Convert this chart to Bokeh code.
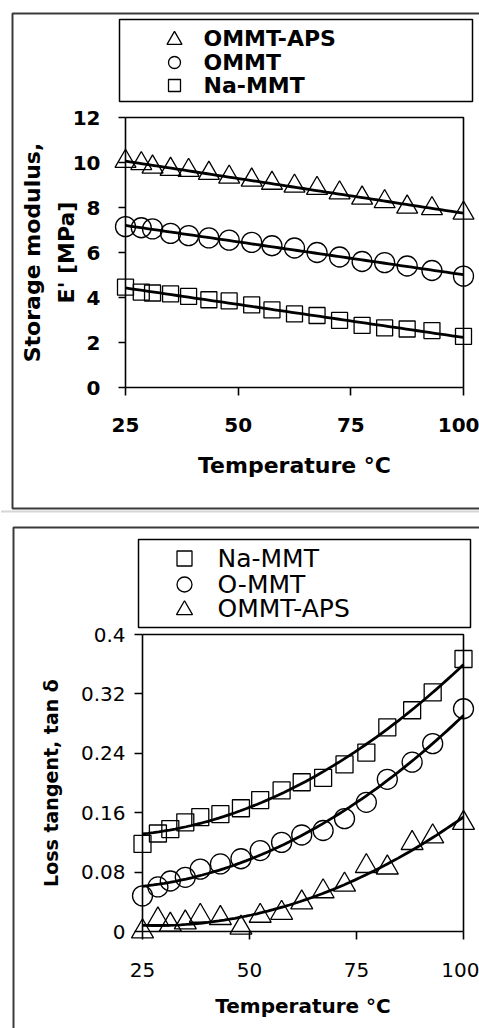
import numpy as np
from bokeh.plotting import figure
from bokeh.layouts import column
from bokeh.models import FixedTicker, Range1d
from bokeh.core.properties import value
from bokeh.embed import file_html
from bokeh.resources import INLINE

# ---------------- data: storage modulus (top panel) ----------------
temp_top = [25, 28.5, 31, 35, 39, 43.5, 48, 53, 57.5, 62.5, 67.5, 72.5, 77.5, 82.5, 87.5, 93, 100]
e_aps = [10.05, 9.95, 9.8, 9.7, 9.65, 9.52, 9.35, 9.22, 9.08, 8.95, 8.85, 8.65, 8.42, 8.26, 8.02, 7.95, 7.75]
e_ommt = [7.15, 7.1, 7.05, 6.85, 6.75, 6.65, 6.55, 6.45, 6.3, 6.2, 6.0, 5.8, 5.6, 5.55, 5.4, 5.2, 4.95]
e_na = [4.46, 4.24, 4.2, 4.16, 4.05, 3.9, 3.85, 3.67, 3.45, 3.27, 3.2, 2.98, 2.76, 2.65, 2.6, 2.53, 2.27]
top_labels = ["OMMT-APS", "OMMT", "Na-MMT"]
top_xticks = [25, 50, 75, 100]
top_yticks = [0, 2, 4, 6, 8, 10, 12]

# ---------------- data: loss tangent (bottom panel) ----------------
temp_bot = [25, 28.6, 31.5, 35, 38.5, 43.2, 48, 52.5, 57.5, 62.2, 67.2, 72.2, 77.3, 82.2, 88, 92.8, 100]
tan_na = [0.118, 0.132, 0.138, 0.147, 0.154, 0.158, 0.166, 0.177, 0.19, 0.201, 0.207, 0.225, 0.241, 0.275, 0.298, 0.322, 0.367]
tan_o = [0.048, 0.06, 0.068, 0.073, 0.084, 0.091, 0.098, 0.109, 0.12, 0.13, 0.136, 0.152, 0.174, 0.205, 0.228, 0.253, 0.3]
tan_aps = [0.0, 0.016, 0.009, 0.012, 0.021, 0.018, 0.005, 0.021, 0.025, 0.039, 0.054, 0.063, 0.088, 0.086, 0.119, 0.128, 0.146]
bot_labels = ["Na-MMT", "O-MMT", "OMMT-APS"]
bot_xticks = [25, 50, 75, 100]
bot_yticks = [0, 0.08, 0.16, 0.24, 0.32, 0.4]
bot_ytick_text = ["0", "0.08", "0.16", "0.24", "0.32", "0.4"]

W = 479
H1, H2 = 518, 510
FONT = "DejaVu Sans"


def make_map(x0, y0, w, h, xa, pxa, xb, pxb, ya, pya, yb, pyb):
    """Ranges so that data values land on given page pixels; plus inverse maps."""
    ux = (pxb - pxa) / (xb - xa)
    uy = (pyb - pya) / (yb - ya)
    X = lambda px: xa + (px - pxa) / ux
    Y = lambda py: ya + (py - pya) / uy
    return Range1d(X(x0), X(x0 + w)), Range1d(Y(y0 + h), Y(y0)), X, Y


def base_fig(w, h, xr, yr):
    p = figure(width=w, height=h, x_range=xr, y_range=yr, output_backend="svg",
               toolbar_location=None, min_border=0, min_border_left=0,
               min_border_right=0, min_border_top=0, min_border_bottom=0)
    p.grid.visible = False
    p.outline_line_color = None
    p.background_fill_color = "white"
    p.border_fill_color = "white"
    return p


def style_axes(p, bold_ticks, tick_size, ytick_out, xtick_out, ylab_standoff, xlab_standoff):
    for ax in list(p.xaxis) + list(p.yaxis):
        ax.axis_line_color = "black"
        ax.axis_line_width = 1.6
        ax.major_tick_line_color = "black"
        ax.major_tick_line_width = 1.6
        ax.major_tick_in = 0
        ax.minor_tick_in = 0
        ax.minor_tick_out = 0
        ax.major_label_text_font = FONT
        ax.major_label_text_font_style = "bold" if bold_ticks else "normal"
        ax.major_label_text_font_size = tick_size
        ax.major_label_text_color = "black"
        ax.axis_label_text_font = FONT
        ax.axis_label_text_font_style = "bold"
        ax.axis_label_text_color = "black"
    p.yaxis.major_tick_out = ytick_out
    p.xaxis.major_tick_out = xtick_out
    p.yaxis.major_label_standoff = ylab_standoff
    p.xaxis.major_label_standoff = xlab_standoff


xs = np.linspace(25, 100, 60)

# ================= top panel =================
xr1, yr1, X1, Y1 = make_map(0, 0, W, H1, 25, 125, 100, 463, 0, 387, 12, 117)
p1 = base_fig(W, H1, xr1, yr1)
p1.xaxis.fixed_location = 0
p1.yaxis.fixed_location = 25
p1.xaxis.bounds = (25, 100)
p1.yaxis.bounds = (0, 12)
p1.xaxis.ticker = FixedTicker(ticks=top_xticks)
p1.yaxis.ticker = FixedTicker(ticks=top_yticks)
style_axes(p1, True, "20px", 7, 8, 18, 22)
p1.xaxis.axis_label = "Temperature °C"
p1.xaxis.axis_label_text_font_size = "22px"
p1.xaxis.axis_label_standoff = 18
p1.yaxis.axis_label = "Storage modulus,\nE' [MPa]"
p1.yaxis.axis_label_text_font_size = "22px"
p1.yaxis.axis_label_text_line_height = 1.35
p1.yaxis.axis_label_standoff = -9

# plot-area box (top and right sides)
p1.line([25, 100, 100], [12, 12, 0], line_color="black", line_width=1.6)
# outer panel frame
p1.line([X1(478.5), X1(12), X1(12), X1(478.5)], [Y1(13), Y1(13), Y1(508), Y1(508)],
        line_color="#3a3a3a", line_width=2)
p1.line([X1(0.5), X1(478.5)], [Y1(511), Y1(511)], line_color="#d6d6d6", line_width=2)

top_series = [(e_aps, "triangle", 21, 15), (e_ommt, "circle", 20, 12), (e_na, "square", 16, 12)]
top_rows = [38, 62, 85]
for (vals, mk, sz, lsz), lab, row in zip(top_series, top_labels, top_rows):
    p1.scatter(temp_top, vals, marker=mk, size=sz, fill_color=None,
               line_color="black", line_width=1.3)
    coef = np.polyfit(temp_top, vals, 1)
    p1.line(xs, np.polyval(coef, xs), line_color="black", line_width=2.8)
    # legend entry
    p1.scatter([X1(174)], [Y1(row + (1.5 if mk == "triangle" else 0))], marker=mk, size=lsz,
               fill_color=None, line_color="black", line_width=1.3)
    p1.text([X1(203)], [Y1(row)], text=[lab], text_font=value(FONT), text_font_style="bold",
            text_font_size="22px", text_baseline="middle", text_align="left", text_color="black")
p1.quad(left=[X1(119)], right=[X1(472)], top=[Y1(19)], bottom=[Y1(101)],
        fill_color=None, line_color="black", line_width=1.5)

# ================= bottom panel =================
xr2, yr2, X2, Y2 = make_map(0, H1, W, H2, 25, 142, 100, 463, 0, 931, 0.4, 634)
p2 = base_fig(W, H2, xr2, yr2)
p2.xaxis.fixed_location = 0
p2.yaxis.fixed_location = 25
p2.xaxis.bounds = (25, 100)
p2.yaxis.bounds = (0, 0.4)
p2.xaxis.ticker = FixedTicker(ticks=bot_xticks)
p2.yaxis.ticker = FixedTicker(ticks=bot_yticks)
p2.yaxis.major_label_overrides = {t: s for t, s in zip(bot_yticks, bot_ytick_text)}
style_axes(p2, False, "20px", 8, 8, 9, 23)
p2.xaxis.axis_label = "Temperature °C"
p2.xaxis.axis_label_text_font_size = "20px"
p2.xaxis.axis_label_standoff = 14
p2.yaxis.axis_label = "Loss tangent, tan δ"
p2.yaxis.axis_label_text_font_size = "19px"
p2.yaxis.axis_label_standoff = 16

p2.line([25, 100, 100], [0.4, 0.4, 0], line_color="black", line_width=1.6)
p2.line([X2(478.5), X2(13), X2(13)], [Y2(527), Y2(527), Y2(1027.5)],
        line_color="#3a3a3a", line_width=2)

bot_series = [(tan_na, "square", 17, 15), (tan_o, "circle", 20, 15), (tan_aps, "triangle", 22, 16)]
bot_rows = [558, 584, 608]
for (vals, mk, sz, lsz), lab, row in zip(bot_series, bot_labels, bot_rows):
    p2.scatter(temp_bot, vals, marker=mk, size=sz, fill_color=None,
               line_color="black", line_width=1.3)
    coef = np.polyfit(temp_bot, vals, 2)
    p2.line(xs, np.polyval(coef, xs), line_color="black", line_width=2.8)
    p2.scatter([X2(184)], [Y2(row + (1.5 if mk == "triangle" else 0))], marker=mk, size=lsz,
               fill_color=None, line_color="black", line_width=1.3)
    p2.text([X2(217)], [Y2(row)], text=[lab], text_font=value(FONT), text_font_style="normal",
            text_font_size="25px", text_baseline="middle", text_align="left", text_color="black")
p2.quad(left=[X2(138)], right=[X2(470)], top=[Y2(539)], bottom=[Y2(627)],
        fill_color=None, line_color="black", line_width=1.5)

layout = column(p1, p2, spacing=0)
open("out.html", "w").write(file_html(layout, INLINE))
